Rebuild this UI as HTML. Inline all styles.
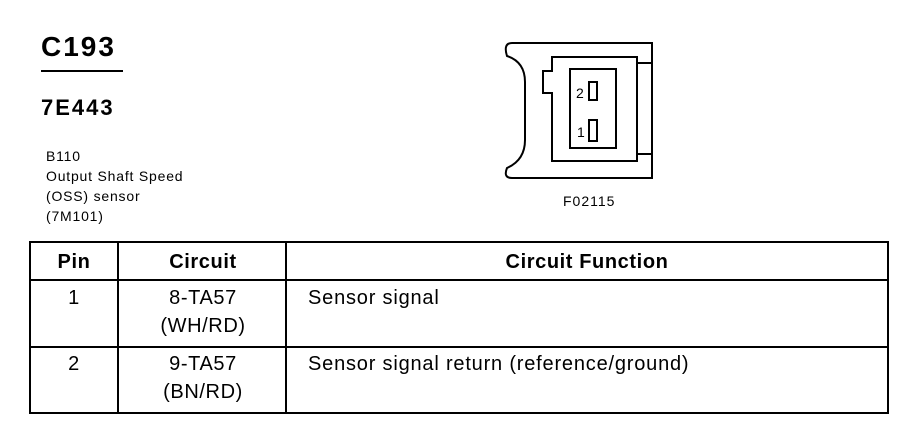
<!DOCTYPE html>
<html><head><style>
body{margin:0;width:908px;height:448px;background:#fff;position:relative;font-family:"Liberation Sans",Arial,sans-serif;color:#000;overflow:hidden}
.a{position:absolute;white-space:nowrap}
</style></head><body>
<div class="a" style="left:41px;top:31px;font-size:28px;font-weight:bold;letter-spacing:2px">C193</div>
<div style="position:absolute;left:41px;top:70px;width:82px;height:2px;background:#000"></div>
<div class="a" style="left:41px;top:95px;font-size:22px;font-weight:bold;letter-spacing:2px">7E443</div>
<div class="a" style="left:46px;top:146px;font-size:14px;line-height:20px;letter-spacing:0.8px">B110<br>Output Shaft Speed<br>(OSS) sensor<br>(7M101)</div>
<svg width="908" height="448" style="position:absolute;left:0;top:0" fill="none" stroke="#000" stroke-width="2">
<path d="M512,43 H652 V178 H512 Q503,178 507,168 Q525,160 525,140 V82 Q525,62 507,56 Q503,43 512,43 Z"/>
<path d="M552,57 H637 V161 H552 V93 H543 V71 H552 Z"/>
<line x1="637" y1="63" x2="652" y2="63"/><line x1="637" y1="154" x2="652" y2="154"/>
<rect x="570" y="69" width="46" height="79"/>
<rect x="589" y="82" width="8" height="18"/>
<rect x="589" y="120" width="8" height="21"/>
<text x="576" y="98" font-size="14" fill="#000" stroke="none" font-family="Liberation Sans">2</text>
<text x="577" y="137" font-size="14" fill="#000" stroke="none" font-family="Liberation Sans">1</text>
<text x="563" y="206" font-size="14" letter-spacing="1" fill="#000" stroke="none" font-family="Liberation Sans">F02115</text>
<rect x="30" y="242" width="858" height="171"/>
<line x1="30" y1="280" x2="888" y2="280"/>
<line x1="30" y1="347" x2="888" y2="347"/>
<line x1="118" y1="242" x2="118" y2="413"/>
<line x1="286" y1="242" x2="286" y2="413"/>
<g fill="#000" stroke="none" font-family="Liberation Sans" font-size="20" letter-spacing="0.6">
<text x="74" y="268" text-anchor="middle" font-weight="bold">Pin</text>
<text x="203" y="268" text-anchor="middle" font-weight="bold">Circuit</text>
<text x="587" y="268" text-anchor="middle" font-weight="bold">Circuit Function</text>
<text x="74" y="304" text-anchor="middle">1</text>
<text x="203" y="304" text-anchor="middle">8-TA57</text>
<text x="203" y="332" text-anchor="middle">(WH/RD)</text>
<text x="308" y="304" letter-spacing="0.8">Sensor signal</text>
<text x="74" y="370" text-anchor="middle">2</text>
<text x="203" y="370" text-anchor="middle">9-TA57</text>
<text x="203" y="398" text-anchor="middle">(BN/RD)</text>
<text x="308" y="370" letter-spacing="0.8">Sensor signal return (reference/ground)</text>
</g>
</svg>
</body></html>
